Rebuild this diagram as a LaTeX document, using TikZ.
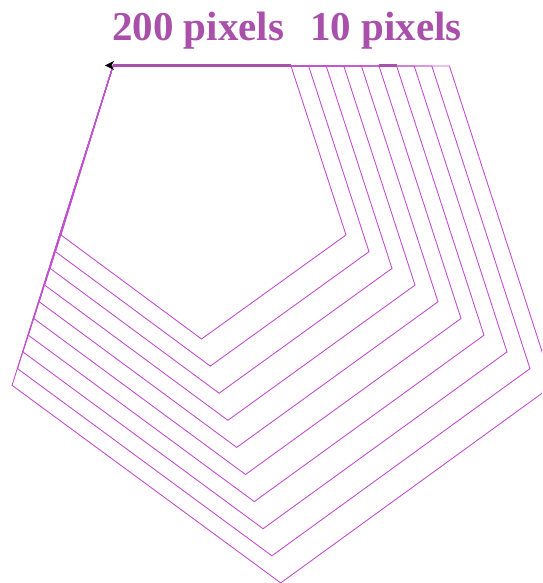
\documentclass[tikz,border=0pt]{standalone}
\usepackage{fontspec}
\setmainfont{Liberation Serif}
\definecolor{pv}{RGB}{168,80,170}
\definecolor{pl}{RGB}{192,80,205}
\tikzset{
  thinedge/.style={pl, line width=0.9pt, line join=miter},
  thickedge/.style={pv, line width=3pt},
  lbl/.style={pv, anchor=base west, inner sep=0pt, font=\fontsize{41}{48}\selectfont\bfseries}
}
\begin{document}
\begin{tikzpicture}[x=1pt,y=-1pt]
\useasboundingbox (0,0) rectangle (542,583);
\clip (0,0) rectangle (542,583);
\coordinate (A) at (113,66);
\foreach \k in {0,...,9}{
  \coordinate (B\k) at ({291+17.6*\k},66);
  \coordinate (C\k) at ({346+23*\k},{235+16.7*\k});
  \coordinate (D\k) at ({201.5+8.8*\k},{339+27.1*\k});
  \coordinate (E\k) at ({61-5.44*\k},{235+16.7*\k});
  \draw[thinedge] (A) -- (B\k) -- (C\k) -- (D\k) -- (E\k) -- cycle;
}
\draw[thickedge] (A) -- (B0);
\draw[thickedge] (B5) -- (B6);
\fill[black] (105,65.5) -- (114,61) -- (111.5,65.5) -- (114,70) -- cycle;
\node[lbl] (t1) at (112,41) {200 pixels};
\node[lbl] (t2) at (310,41) {10 pixels};
\end{tikzpicture}
\end{document}
